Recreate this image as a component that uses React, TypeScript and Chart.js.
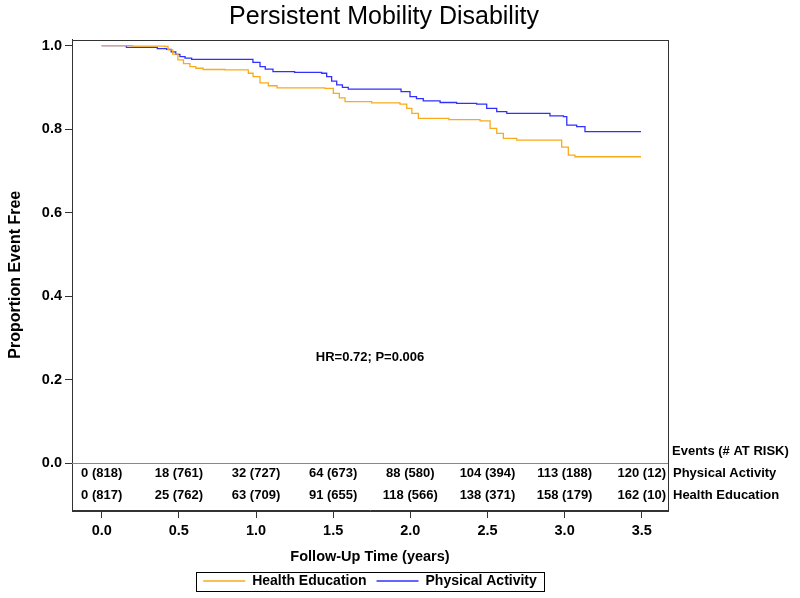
import React, { useEffect, useRef } from "react";
import { Chart, registerables } from "chart.js";

Chart.register(...registerables);

const FONT = '"Liberation Sans", Arial, Helvetica, sans-serif';

const titleText = "Persistent Mobility Disability";
const xTitle = "Follow-Up Time (years)";
const yTitle = "Proportion Event Free";
const hrText = "HR=0.72; P=0.006";
const riskHeader = "Events (# AT RISK)";

const seriesNames = ["Health Education", "Physical Activity"];
const seriesColors = ["#F9AA1A", "#3030FF"];

const xTicks = [0, 0.5, 1, 1.5, 2, 2.5, 3, 3.5];
const yTicks = [0, 0.2, 0.4, 0.6, 0.8, 1.0];

// Kaplan-Meier curve: Physical Activity
const paTimes = [0, 0.16, 0.36, 0.421, 0.45, 0.48, 0.507, 0.54, 0.583, 0.94, 0.98, 1.026, 1.06, 1.11, 1.25, 1.426, 1.458, 1.49, 1.523, 1.56, 1.598, 1.912, 1.94, 1.998, 2.04, 2.084, 2.193, 2.3, 2.43, 2.495, 2.56, 2.625, 2.905, 2.992, 3.014, 3.078, 3.132, 3.495];
const paSurv = [1.0, 0.996, 0.993, 0.991, 0.985, 0.979, 0.974, 0.97, 0.967, 0.967, 0.96, 0.95, 0.944, 0.938, 0.936, 0.934, 0.926, 0.915, 0.906, 0.9, 0.896, 0.896, 0.89, 0.878, 0.873, 0.868, 0.864, 0.862, 0.86, 0.85, 0.842, 0.838, 0.832, 0.83, 0.81, 0.806, 0.794, 0.794];

// Kaplan-Meier curve: Health Education
const heTimes = [0, 0.2, 0.41, 0.43, 0.46, 0.494, 0.53, 0.572, 0.61, 0.657, 0.8, 0.916, 0.95, 0.981, 1.026, 1.08, 1.136, 1.447, 1.501, 1.54, 1.577, 1.75, 1.933, 1.977, 2.01, 2.052, 2.25, 2.452, 2.517, 2.56, 2.603, 2.69, 2.959, 2.981, 3.024, 3.067, 3.495];
const heSurv = [1.0, 0.999, 0.998, 0.99, 0.98, 0.966, 0.957, 0.95, 0.946, 0.943, 0.942, 0.942, 0.934, 0.926, 0.911, 0.904, 0.899, 0.898, 0.886, 0.875, 0.866, 0.863, 0.86, 0.85, 0.838, 0.826, 0.823, 0.82, 0.802, 0.79, 0.778, 0.774, 0.774, 0.757, 0.738, 0.734, 0.734];

// Number-at-risk table
const riskTimes = [0, 0.5, 1, 1.5, 2, 2.5, 3, 3.5];
const paEvents = [0, 18, 32, 64, 88, 104, 113, 120];
const paAtRisk = [818, 761, 727, 673, 580, 394, 188, 12];
const heEvents = [0, 25, 63, 91, 118, 138, 158, 162];
const heAtRisk = [817, 762, 709, 655, 566, 371, 179, 10];

// layout constants (in y-data units for the table rows)
const Y_MIN = -0.1118;
const Y_MAX = 1.0148;
const X_MIN = -0.1925;
const X_MAX = 3.67;
const HEADER_ROW_Y = 0.028;
const PA_ROW_Y = -0.024;
const HE_ROW_Y = -0.076;
const HR_Y = 0.2545;

const toXY = (ts: number[], ss: number[]) => ts.map((t, i) => ({ x: t, y: ss[i] }));

const annotationPlugin = {
  id: "kmExtras",
  afterDraw(chart: any) {
    const { ctx, chartArea } = chart;
    const xs = chart.scales.x;
    const ys = chart.scales.y;
    const { left, right, top, bottom } = chartArea;
    ctx.save();
    // frame
    ctx.strokeStyle = "#333";
    ctx.lineWidth = 1;
    ctx.strokeRect(Math.round(left) + 0.5, Math.round(top) + 0.5, Math.round(right - left), Math.round(bottom - top));
    // zero line
    const y0 = Math.round(ys.getPixelForValue(0)) + 0.5;
    ctx.strokeStyle = "#888";
    ctx.beginPath();
    ctx.moveTo(left, y0);
    ctx.lineTo(right, y0);
    ctx.stroke();

    ctx.fillStyle = "#000";
    ctx.textBaseline = "middle";
    // HR text
    ctx.font = `bold 13px ${FONT}`;
    ctx.textAlign = "center";
    ctx.fillText(hrText, (left + right) / 2, ys.getPixelForValue(HR_Y));

    // risk table
    const yPA = ys.getPixelForValue(PA_ROW_Y);
    const yHE = ys.getPixelForValue(HE_ROW_Y);
    riskTimes.forEach((t, i) => {
      const px = xs.getPixelForValue(t);
      ctx.fillText(`${paEvents[i]} (${paAtRisk[i]})`, px, yPA);
      ctx.fillText(`${heEvents[i]} (${heAtRisk[i]})`, px, yHE);
    });
    ctx.textAlign = "left";
    ctx.fillText(riskHeader, right + 4, ys.getPixelForValue(HEADER_ROW_Y));
    ctx.fillText(seriesNames[1], right + 5, yPA);
    ctx.fillText(seriesNames[0], right + 5, yHE);

    // legend border
    const legend = chart.legend;
    if (legend && legend.legendHitBoxes && legend.legendHitBoxes.length) {
      const hb = legend.legendHitBoxes;
      const l = Math.min(...hb.map((h: any) => h.left)) - 7;
      const r = Math.max(...hb.map((h: any) => h.left + h.width)) + 7;
      const t = hb[0].top - 2.5;
      const h = hb[0].height + 5;
      ctx.strokeStyle = "#000";
      ctx.lineWidth = 1;
      ctx.strokeRect(Math.round(l) + 0.5, Math.round(t) + 0.5, Math.round(r - l), Math.round(h));
    }
    ctx.restore();
  },
};

export default function App() {
  const ref = useRef<HTMLCanvasElement | null>(null);
  useEffect(() => {
    if (!ref.current) return;
    const chart = new Chart(ref.current, {
      type: "line",
      data: {
        datasets: [
          {
            label: seriesNames[0],
            data: toXY(heTimes, heSurv),
            borderColor: seriesColors[0],
            backgroundColor: seriesColors[0],
            borderWidth: 1.3,
            pointRadius: 0,
            stepped: true,
            fill: false,
          },
          {
            label: seriesNames[1],
            data: toXY(paTimes, paSurv),
            borderColor: seriesColors[1],
            backgroundColor: seriesColors[1],
            borderWidth: 1.3,
            pointRadius: 0,
            stepped: true,
            fill: false,
          },
        ],
      },
      options: {
        responsive: false,
        animation: false,
        devicePixelRatio: 1,
        layout: { padding: { left: 0, right: 32, top: 0, bottom: 0 } },
        plugins: {
          title: {
            display: true,
            text: titleText,
            color: "#000",
            font: { family: FONT, size: 25, weight: "normal", lineHeight: 1.2 },
            padding: { top: 2, bottom: 7.5 },
          },
          legend: {
            display: true,
            position: "bottom",
            fullSize: false,
            labels: {
              usePointStyle: true,
              pointStyle: "line",
              pointStyleWidth: 42,
              color: "#000",
              padding: 10,
              font: { family: FONT, size: 14, weight: "bold" },
            },
          },
          tooltip: { enabled: false },
        },
        scales: {
          x: {
            type: "linear",
            min: X_MIN,
            max: X_MAX,
            afterBuildTicks: (s: any) => {
              s.ticks = xTicks.map((v) => ({ value: v }));
            },
            afterFit: (s: any) => {
              s.height = 54;
            },
            ticks: {
              autoSkip: false,
              maxRotation: 0,
              padding: 4,
              color: "#000",
              font: { family: FONT, size: 14.5, weight: "bold" },
              callback: (v: any) => Number(v).toFixed(1),
            },
            grid: { drawOnChartArea: false, drawTicks: true, tickLength: 8, color: "#333" },
            border: { display: true, color: "#333" },
            title: {
              display: true,
              text: xTitle,
              color: "#000",
              font: { family: FONT, size: 14.5, weight: "bold", lineHeight: 1 },
              padding: { top: 0, bottom: 0 },
            },
          },
          y: {
            type: "linear",
            position: "left",
            min: Y_MIN,
            max: Y_MAX,
            afterBuildTicks: (s: any) => {
              s.ticks = yTicks.map((v) => ({ value: v }));
            },
            afterFit: (s: any) => {
              s.width = 72;
            },
            ticks: {
              autoSkip: false,
              padding: 3,
              color: "#000",
              font: { family: FONT, size: 14.5, weight: "bold" },
              callback: (v: any) => Number(v).toFixed(1),
            },
            grid: { drawOnChartArea: false, drawTicks: true, tickLength: 7, color: "#333" },
            border: { display: true, color: "#333" },
            title: {
              display: true,
              text: yTitle,
              color: "#000",
              font: { family: FONT, size: 16, weight: "bold" },
              padding: { top: 6, bottom: 0 },
            },
          },
          yr: {
            type: "linear",
            position: "right",
            display: true,
            ticks: { display: false },
            grid: { display: false },
            border: { display: false },
            title: { display: false },
            afterFit: (s: any) => {
              s.width = 100;
            },
          },
        },
      } as any,
      plugins: [annotationPlugin],
    });
    return () => chart.destroy();
  }, []);
  return (
    <div style={{ position: "absolute", left: 0, top: 0, width: 800, height: 598, background: "#fff" }}>
      <canvas ref={ref} width={800} height={598} style={{ display: "block" }} />
    </div>
  );
}
